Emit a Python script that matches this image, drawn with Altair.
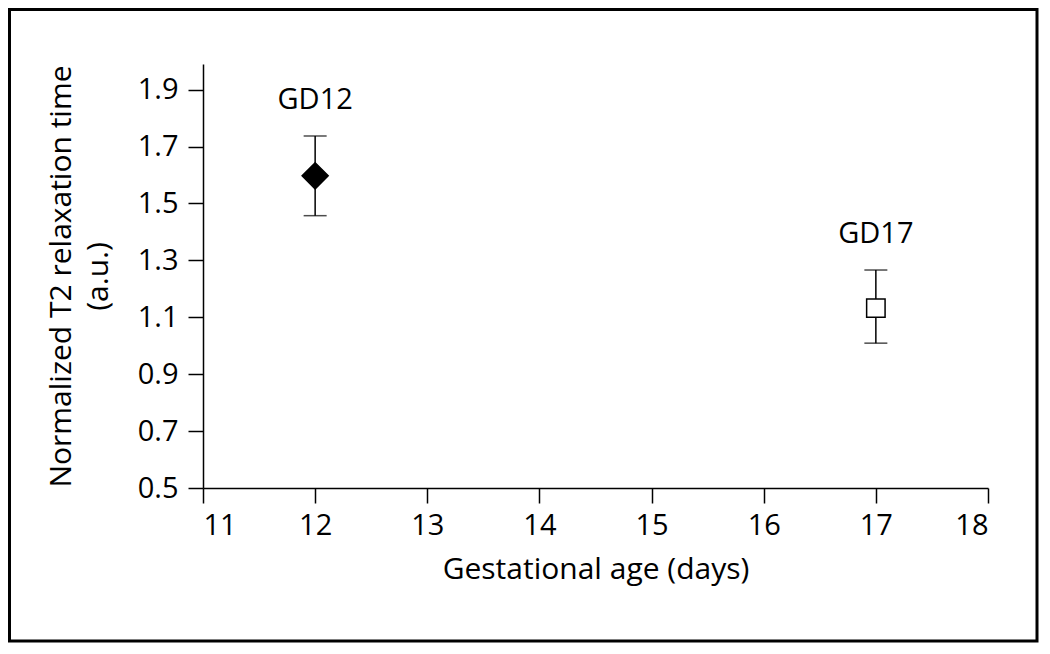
import altair as alt
import pandas as pd

# Data
days = [12, 17]
means = [1.597, 1.132]
lowers = [1.457, 1.009]
uppers = [1.737, 1.266]
labels = ["GD12", "GD17"]

x_ticks = [11, 12, 13, 14, 15, 16, 17, 18]
y_ticks = [0.5, 0.7, 0.9, 1.1, 1.3, 1.5, 1.7, 1.9]

df = pd.DataFrame({"day": days, "mean": means, "lo": lowers, "hi": uppers, "label": labels})

FONT = "Open Sans"
W, H = 785, 424

xs = alt.Scale(domain=[11, 18], nice=False, zero=False)
ys = alt.Scale(domain=[0.5, 1.99], nice=False, zero=False)

base = alt.Chart(df)

x_enc = alt.X(
    "day:Q", scale=xs,
    axis=alt.Axis(values=x_ticks, title="Gestational age (days)", format="d"),
)
y_enc = alt.Y(
    "mean:Q", scale=ys,
    axis=alt.Axis(values=y_ticks, format=".1f",
                  title=["Normalized T2 relaxation time", "(a.u.)"]),
)

bars = base.mark_rule(color="black", strokeWidth=1.5).encode(
    x=x_enc, y=alt.Y("lo:Q", scale=ys), y2="hi:Q"
)
cap_hi = base.mark_tick(color="black", orient="horizontal", size=23, thickness=1.5).encode(
    x="day:Q", y="hi:Q"
)
cap_lo = base.mark_tick(color="black", orient="horizontal", size=23, thickness=1.5).encode(
    x="day:Q", y="lo:Q"
)
pts = base.mark_point(filled=False, stroke="black", strokeWidth=1.5, opacity=1).encode(
    x="day:Q",
    y=y_enc,
    shape=alt.Shape("label:N", scale=alt.Scale(domain=labels, range=["diamond", "square"]), legend=None),
    fill=alt.Fill("label:N", scale=alt.Scale(domain=labels, range=["black", "white"]), legend=None),
    size=alt.Size("label:N", scale=alt.Scale(domain=labels, range=[680, 340]), legend=None),
)
txt = base.mark_text(font=FONT, fontSize=29, color="black", dy=-36, baseline="middle").encode(
    x="day:Q", y="hi:Q", text="label:N"
)

frame = alt.Chart(pd.DataFrame({"k": [0]})).mark_rect(
    filled=False, stroke="black", strokeWidth=3
).encode(
    x=alt.value(-193.5), x2=alt.value(834), y=alt.value(-54.5), y2=alt.value(577)
)

chart = alt.layer(frame, bars, cap_hi, cap_lo, pts, txt).properties(
    width=W, height=H, padding=0, background="white"
).configure_view(stroke=None).configure_axis(
    domainColor="black", domainWidth=1.5, tickColor="black", tickWidth=1.5, tickSize=15,
    grid=False, labelFont=FONT, labelFontSize=29, labelColor="black",
    titleFont=FONT, titleFontSize=30, titleColor="black", titleFontWeight="normal",
).configure_axisX(
    labelPadding=8, titlePadding=14,
).configure_axisY(
    labelPadding=10, titlePadding=24, titleLineHeight=37,
)

chart.save("out.html", embed_options={"renderer": "svg", "actions": False})
